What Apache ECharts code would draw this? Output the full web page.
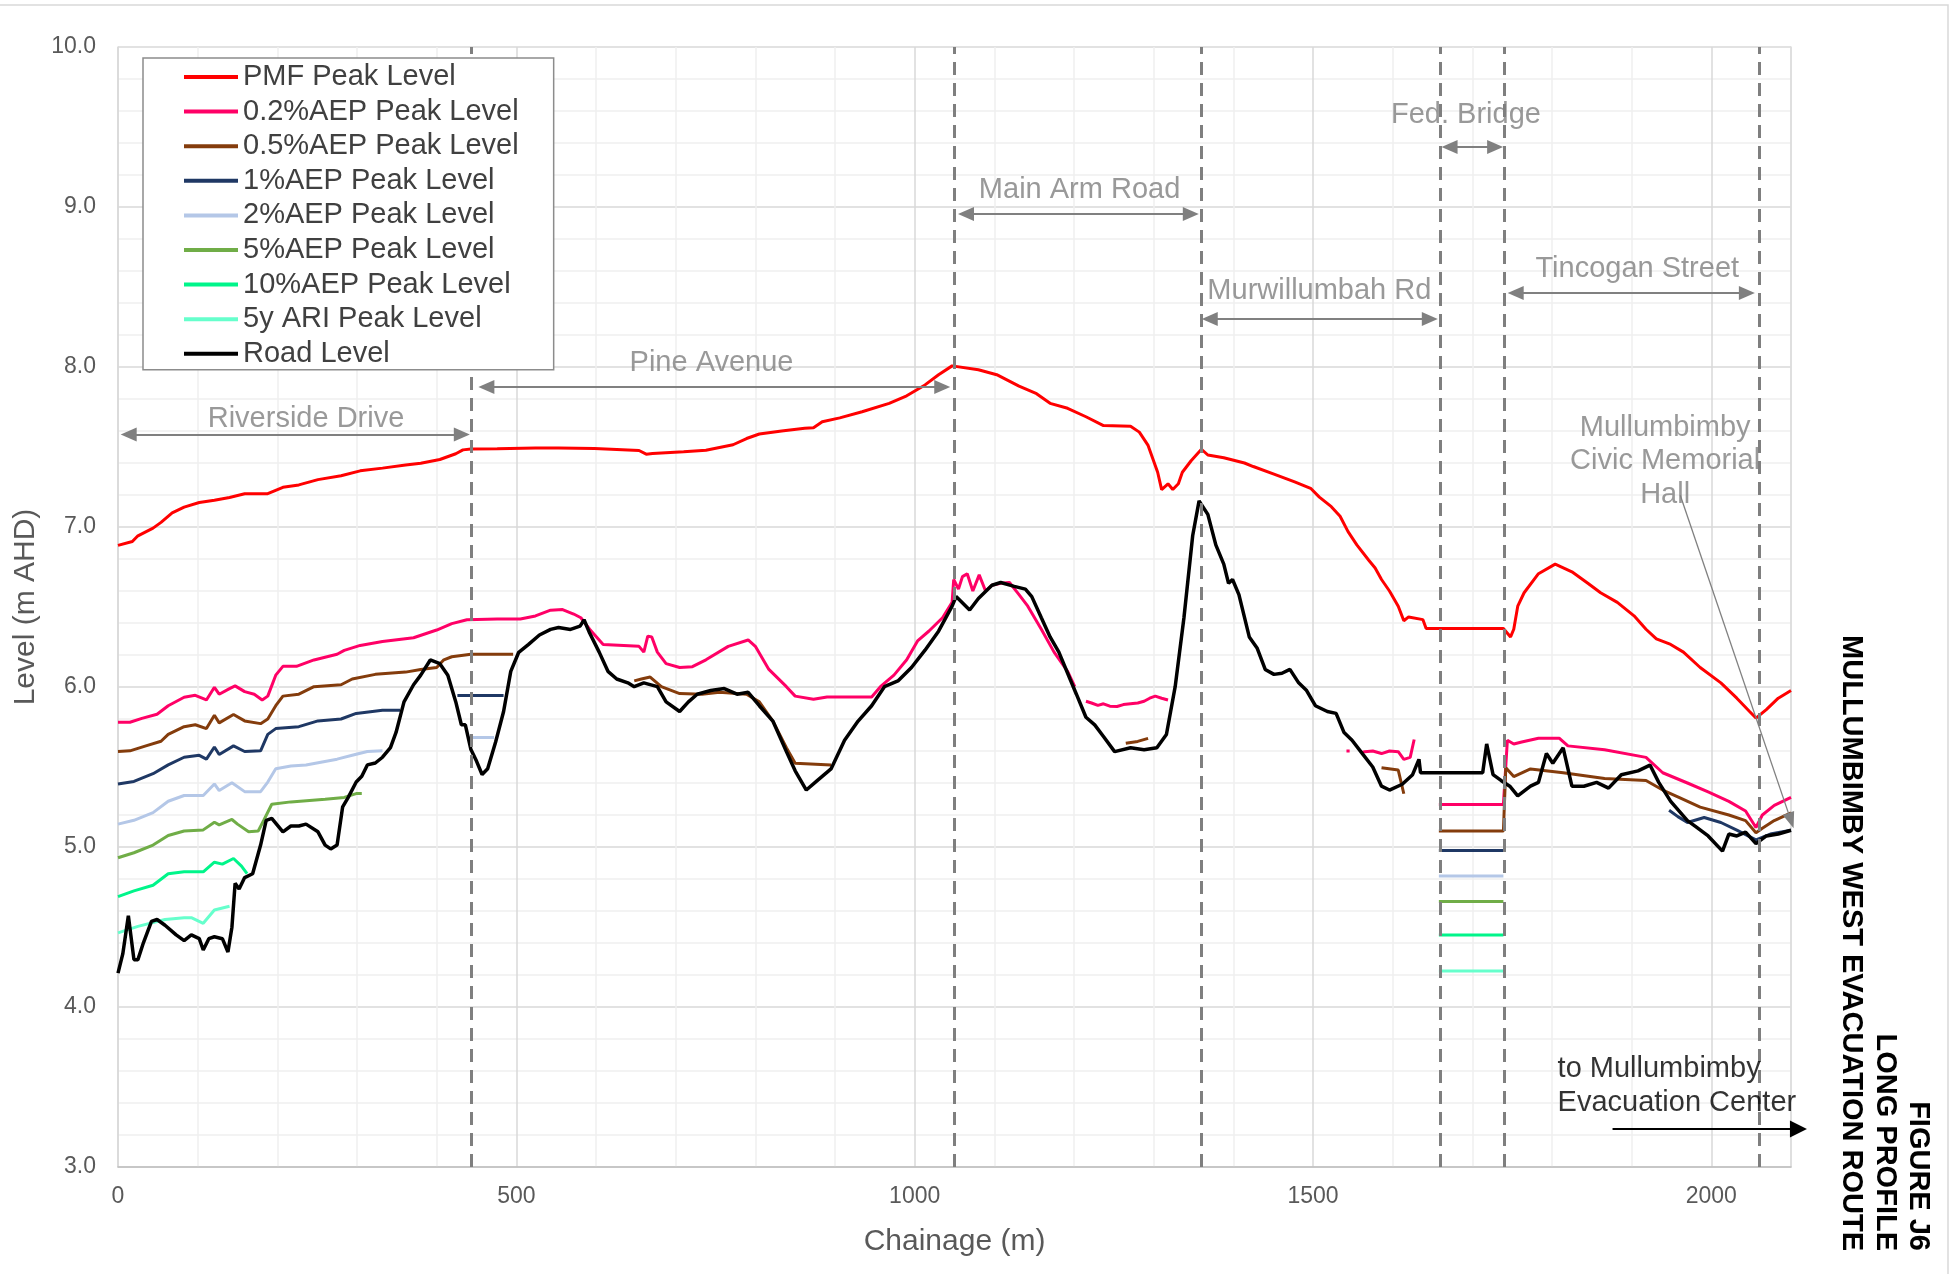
<!DOCTYPE html>
<html>
<head>
<meta charset="utf-8">
<script src="https://cdn.jsdelivr.net/npm/echarts@6/dist/echarts.min.js"></script>
<style>
html,body{margin:0;padding:0;background:#fff;}
#chart{width:1952px;height:1274px;}
</style>
</head>
<body>
<div id="chart"></div>
<script>
// ---------------- DATA (chainage m, level m AHD) ----------------
const seriesNames = ['PMF Peak Level','0.2%AEP Peak Level','0.5%AEP Peak Level','1%AEP Peak Level','2%AEP Peak Level','5%AEP Peak Level','10%AEP Peak Level','5y ARI Peak Level','Road Level'];

const pmf = [[0,6.885],[18,6.909],[25,6.945],[44,6.993],[54,7.029],[68,7.088],[83,7.124],[102,7.153],[121,7.167],[140,7.184],[159,7.208],[188,7.208],[207,7.248],[227,7.263],[251,7.296],[280,7.320],[304,7.351],[332,7.368],[361,7.387],[380,7.399],[404,7.422],[424,7.458],[433,7.482],[443,7.487],[476,7.489],[524,7.494],[553,7.494],[598,7.49],[654,7.478],[663,7.455],[671,7.46],[710,7.47],[738,7.48],[772,7.514],[789,7.553],[805,7.581],[833,7.60],[862,7.617],[873,7.62],[884,7.658],[906,7.682],[934,7.72],[968,7.773],[990,7.82],[1013,7.888],[1030,7.952],[1047,8.007],[1080,7.983],[1103,7.952],[1131,7.88],[1153,7.833],[1170,7.773],[1192,7.742],[1215,7.689],[1237,7.634],[1271,7.63],[1282,7.593],[1293,7.51],[1305,7.342],[1310,7.234],[1318,7.27],[1324,7.234],[1331,7.27],[1336,7.342],[1347,7.414],[1360,7.486],[1368,7.45],[1388,7.433],[1414,7.40],[1425,7.378],[1451,7.33],[1477,7.282],[1497,7.242],[1508,7.187],[1523,7.127],[1534,7.067],[1544,6.971],[1555,6.888],[1570,6.792],[1578,6.744],[1586,6.672],[1596,6.60],[1607,6.505],[1614,6.414],[1620,6.438],[1638,6.421],[1642,6.366],[1658,6.366],[1739,6.366],[1748,6.313],[1752,6.361],[1757,6.505],[1765,6.589],[1783,6.708],[1804,6.768],[1825,6.72],[1845,6.648],[1861,6.589],[1882,6.529],[1903,6.445],[1918,6.361],[1931,6.301],[1949,6.266],[1965,6.218],[1986,6.122],[2012,6.026],[2032,5.93],[2048,5.847],[2056,5.806],[2069,5.859],[2084,5.93],[2100,5.978]];

const aep02 = [[0,5.78],[15,5.78],[30,5.804],[49,5.83],[63,5.883],[83,5.936],[97,5.948],[111,5.919],[121,5.998],[127,5.955],[140,5.99],[147,6.007],[159,5.971],[171,5.955],[181,5.919],[188,5.943],[198,6.074],[207,6.129],[224,6.129],[246,6.169],[275,6.205],[284,6.229],[304,6.26],[332,6.284],[371,6.308],[400,6.356],[419,6.396],[438,6.42],[476,6.425],[505,6.425],[524,6.444],[543,6.48],[558,6.484],[572,6.456],[581,6.433],[592,6.361],[609,6.266],[654,6.254],[660,6.218],[665,6.318],[670,6.313],[677,6.218],[688,6.146],[705,6.122],[721,6.127],[738,6.17],[766,6.254],[791,6.294],[800,6.254],[817,6.11],[839,6.002],[850,5.943],[873,5.923],[890,5.938],[946,5.938],[957,6.002],[974,6.074],[990,6.17],[1004,6.29],[1018,6.35],[1035,6.433],[1047,6.529],[1049,6.672],[1055,6.612],[1060,6.69],[1066,6.708],[1073,6.6],[1081,6.701],[1089,6.6],[1097,6.636],[1108,6.648],[1119,6.653],[1131,6.577],[1142,6.505],[1159,6.361],[1175,6.218],[1192,6.098],[1201,6.002],[1208,null],[1215,5.911],[1222,5.90],[1230,5.885],[1237,5.895],[1245,5.88],[1254,5.878],[1262,5.89],[1271,5.895],[1280,5.90],[1288,5.911],[1295,5.93],[1302,5.943],[1310,5.93],[1318,5.919],[1330,null],[1542,5.6],[1546,5.6],[1552,null],[1560,5.59],[1565,5.596],[1575,5.60],[1586,5.584],[1596,5.60],[1607,5.596],[1614,5.548],[1622,5.56],[1627,5.672],[1640,null],[1658,5.266],[1739,5.266],[1744,5.667],[1752,5.644],[1762,5.656],[1783,5.68],[1809,5.68],[1820,5.632],[1866,5.608],[1918,5.56],[1939,5.464],[1970,5.40],[1996,5.344],[2022,5.285],[2043,5.225],[2056,5.122],[2064,5.20],[2079,5.26],[2100,5.31]];

const aep05 = [[0,5.597],[15,5.601],[35,5.632],[54,5.661],[63,5.704],[83,5.752],[97,5.764],[111,5.74],[121,5.823],[127,5.776],[145,5.828],[159,5.788],[179,5.771],[188,5.80],[198,5.883],[207,5.943],[227,5.955],[246,6.002],[280,6.014],[294,6.05],[323,6.079],[361,6.093],[380,6.11],[400,6.122],[409,6.17],[419,6.189],[443,6.205],[496,6.205],[500,null],[648,6.038],[657,6.05],[668,6.062],[682,6.002],[705,5.959],[733,5.955],[755,5.967],[789,5.955],[805,5.907],[822,5.787],[839,5.62],[850,5.524],[895,5.512],[900,null],[1265,5.648],[1280,5.66],[1293,5.679],[1300,null],[1586,5.495],[1607,5.481],[1614,5.333],[1620,null],[1658,5.10],[1739,5.10],[1742,5.495],[1752,5.44],[1773,5.488],[1814,5.464],[1866,5.428],[1918,5.416],[1939,5.356],[1960,5.309],[1986,5.249],[2022,5.20],[2043,5.165],[2056,5.089],[2064,5.117],[2079,5.165],[2100,5.213]];

const aep1 = [[0,5.394],[20,5.41],[44,5.458],[63,5.513],[83,5.561],[102,5.573],[111,5.549],[121,5.625],[127,5.578],[145,5.632],[159,5.597],[179,5.601],[188,5.704],[198,5.74],[227,5.752],[251,5.788],[280,5.80],[299,5.835],[332,5.854],[354,5.854],[358,null],[426,5.947],[484,5.947],[490,null],[1658,4.978],[1739,4.978],[1745,null],[1947,5.23],[1958,5.19],[1970,5.153],[1991,5.184],[2012,5.153],[2032,5.105],[2056,5.045],[2074,5.081],[2100,5.105]];

const aep2 = [[0,5.143],[20,5.167],[44,5.215],[63,5.286],[83,5.322],[107,5.322],[121,5.394],[127,5.353],[143,5.401],[159,5.346],[179,5.346],[188,5.406],[198,5.489],[217,5.506],[236,5.513],[275,5.549],[294,5.573],[313,5.597],[332,5.601],[336,null],[438,5.685],[472,5.685],[476,null],[1658,4.818],[1739,4.818]];

const aep5 = [[0,4.933],[20,4.964],[44,5.012],[63,5.072],[83,5.10],[107,5.107],[121,5.155],[127,5.138],[143,5.172],[150,5.143],[164,5.095],[176,5.10],[183,5.167],[193,5.267],[217,5.282],[260,5.298],[284,5.31],[299,5.334],[306,5.334],[310,null],[1658,4.66],[1739,4.66]];

const aep10 = [[0,4.69],[20,4.726],[44,4.761],[63,4.833],[83,4.845],[107,4.845],[121,4.905],[131,4.893],[145,4.928],[155,4.881],[162,4.833],[166,null],[1658,4.45],[1739,4.45]];

const ari5 = [[0,4.463],[25,4.504],[59,4.547],[83,4.558],[92,4.558],[107,4.523],[121,4.606],[140,4.63],[144,null],[1658,4.225],[1739,4.225]];

const road = [[0,4.212],[6,4.332],[13,4.57],[20,4.296],[25,4.296],[32,4.403],[42,4.535],[49,4.547],[59,4.511],[73,4.451],[83,4.415],[92,4.451],[102,4.427],[107,4.356],[114,4.427],[121,4.439],[131,4.427],[138,4.344],[143,4.499],[147,4.773],[152,4.737],[159,4.809],[169,4.833],[179,5.012],[186,5.167],[193,5.179],[207,5.095],[217,5.131],[227,5.131],[236,5.143],[251,5.095],[260,5.012],[267,4.988],[275,5.012],[282,5.251],[289,5.31],[299,5.406],[306,5.442],[313,5.513],[323,5.525],[332,5.561],[342,5.621],[349,5.716],[359,5.907],[371,6.014],[380,6.074],[392,6.169],[404,6.146],[414,6.074],[424,5.907],[431,5.764],[436,5.764],[443,5.609],[450,5.537],[457,5.453],[464,5.489],[474,5.656],[484,5.847],[493,6.098],[503,6.217],[515,6.265],[529,6.325],[543,6.36],[553,6.372],[568,6.36],[580,6.38],[585,6.42],[592,6.337],[604,6.218],[615,6.098],[626,6.05],[640,6.026],[648,6.002],[660,6.026],[677,6.002],[688,5.907],[705,5.847],[716,5.907],[727,5.955],[744,5.978],[761,5.99],[777,5.955],[791,5.967],[805,5.883],[822,5.787],[839,5.596],[850,5.476],[864,5.356],[878,5.416],[895,5.488],[912,5.667],[929,5.787],[946,5.883],[962,6.002],[979,6.038],[996,6.122],[1013,6.23],[1030,6.349],[1047,6.505],[1052,6.565],[1069,6.481],[1080,6.553],[1097,6.636],[1108,6.653],[1125,6.629],[1139,6.612],[1147,6.565],[1159,6.433],[1170,6.313],[1181,6.218],[1195,6.05],[1203,5.955],[1215,5.811],[1226,5.763],[1237,5.691],[1251,5.596],[1271,5.62],[1288,5.608],[1304,5.62],[1316,5.703],[1327,6.002],[1338,6.433],[1349,6.947],[1357,7.163],[1368,7.079],[1378,6.888],[1388,6.768],[1394,6.648],[1399,6.672],[1407,6.577],[1420,6.313],[1430,6.242],[1440,6.11],[1451,6.079],[1461,6.086],[1471,6.11],[1482,6.026],[1492,5.978],[1503,5.883],[1518,5.847],[1529,5.835],[1539,5.715],[1549,5.667],[1560,5.596],[1575,5.50],[1586,5.38],[1596,5.356],[1612,5.392],[1625,5.452],[1633,5.548],[1635,5.464],[1658,5.464],[1713,5.464],[1718,5.644],[1726,5.452],[1736,5.416],[1747,5.38],[1757,5.32],[1773,5.38],[1783,5.404],[1793,5.584],[1801,5.524],[1814,5.62],[1825,5.38],[1840,5.38],[1856,5.404],[1871,5.368],[1887,5.452],[1908,5.476],[1923,5.512],[1934,5.404],[1949,5.285],[1970,5.165],[1980,5.129],[1996,5.069],[2014,4.974],[2022,5.081],[2032,5.069],[2043,5.093],[2056,5.021],[2069,5.069],[2084,5.081],[2100,5.105]];

// section boundaries (chainage)
const sectionBounds = [443, 1050, 1360, 1660, 1740, 2060];

// road section labels: [text, x, y] and their extent arrows [x1, x2, y]
const roadLabels = [['Riverside Drive',236,7.674],['Pine Avenue',745,8.024],['Main Arm Road',1207,9.104],['Fed. Bridge',1692,9.574],['Murwillumbah Rd',1508,8.474],['Tincogan Street',1907,8.614],['Mullumbimby\nCivic Memorial\nHall',1942,7.41]];
const roadArrows = [[4,441,7.578],[453,1044,7.875],[1055,1356,8.956],[1662,1738,9.375],[1361,1656,8.30],[1745,2054,8.4625]];
const hallPointer = [[1961,7.198],[2100,5.165]];
const evacLabel = ['to Mullumbimby\nEvacuation Center',1807,3.505];
const evacArrow = [[1876,3.2375],[2120,3.2375]];

const xTicks = [0,500,1000,1500,2000];
const yTicks = [3,4,5,6,7,8,9,10];

// ---------------- CHART ----------------
const FONT = '"Liberation Sans", Arial, Helvetica, sans-serif';
const colors = ['#FF0000','#FF0066','#843C0C','#1F3864','#B4C7E7','#70AD47','#00F58A','#66FFCC','#000000'];
const dataSets = [pmf,aep02,aep05,aep1,aep2,aep5,aep10,ari5,road];

const chart = echarts.init(document.getElementById('chart'), null, {renderer:'canvas'});

const HALF = 9.4; // half arrow-head length in chainage units
const arrowLines = roadArrows.map(a => [
  {coord:[a[0]+HALF, a[2]]},
  {coord:[a[1]-HALF, a[2]]}
]);

const lineSeries = dataSets.map((d,i) => ({
  name: seriesNames[i],
  type: 'line',
  data: d,
  showSymbol: false,
  symbol: 'none',
  connectNulls: false,
  color: colors[i],
  lineStyle: {width: i === 8 ? 3.5 : 3, color: colors[i]},
  z: 3 + i*0.01,
  silent: true
}));

const baseGraphic = [
  {id:'frame', type:'rect', silent:true, z:-10, shape:{x:-2, y:5, width:1950, height:1300}, style:{fill:null, stroke:'#d9d9d9', lineWidth:1.5}},
  {id:'title', type:'text', silent:true, x:1935, y:1251, rotation:-Math.PI/2,
    style:{text:'FIGURE J6\nLONG PROFILE\nMULLUMBIMBY WEST EVACUATION ROUTE', font:'bold 29px ' + FONT, fill:'#000000', align:'right', verticalAlign:'top', lineHeight:33.5}}
];

const option = {
  animation: false,
  backgroundColor: '#ffffff',
  textStyle: {fontFamily: FONT},
  grid: {left:118, top:47, right:161, bottom:107, containLabel:false},
  legend: {
    orient:'vertical', left:143, top:58,
    padding:[4,35,1,41], itemGap:4.6, itemWidth:54, itemHeight:4,
    icon:'rect', backgroundColor:'#ffffff', borderColor:'#8c8c8c', borderWidth:1.5,
    textStyle:{fontSize:29, color:'#404040', fontFamily:FONT, lineHeight:30},
    data: seriesNames, z: 20, selectedMode:false
  },
  xAxis: {
    type:'value', min:0, max:2100, interval:100,
    name:'Chainage (m)', nameLocation:'middle', nameGap:60,
    nameTextStyle:{fontSize:30, color:'#595959', fontFamily:FONT},
    axisLine:{show:true, lineStyle:{color:'#bfbfbf', width:1.5}},
    axisTick:{show:false},
    axisLabel:{fontSize:23, color:'#595959', fontFamily:FONT, margin:18,
      formatter: v => xTicks.indexOf(Math.round(v)) >= 0 && Math.abs(v-Math.round(v))<1e-6 ? String(Math.round(v)) : ''},
    splitLine:{show:true, lineStyle:{color:['#d9d9d9','#efefef','#efefef','#efefef','#efefef'], width:1.5}}
  },
  yAxis: [{
    type:'value', min:3, max:10, interval:0.2,
    name:'Level (m AHD)', nameLocation:'middle', nameGap:75,
    nameTextStyle:{fontSize:30, color:'#595959', fontFamily:FONT},
    axisLine:{show:true, lineStyle:{color:'#d9d9d9', width:1.5}},
    axisTick:{show:false},
    axisLabel:{fontSize:23, color:'#595959', fontFamily:FONT, margin:22,
      formatter: v => { const r = Math.round(v); return (Math.abs(v-r)<1e-6 && yTicks.indexOf(r)>=0) ? r.toFixed(1) : ''; }},
    splitLine:{show:true, lineStyle:{color:['#d9d9d9','#efefef','#efefef','#efefef','#efefef'], width:1.5}}
  },{
    type:'value', min:3, max:10, position:'right',
    axisLine:{show:true, onZero:false, lineStyle:{color:'#d9d9d9', width:1.5}},
    axisTick:{show:false}, axisLabel:{show:false}, splitLine:{show:false}
  }],
  series: lineSeries.concat([
    {
      name:'annotations', type:'line', data:[], silent:true, z:10, clip:false,
      markLine:{
        silent:true, animation:false, symbol:['none','none'],
        label:{show:false},
        data: sectionBounds.map(x => ({xAxis:x, lineStyle:{color:'#7f7f7f', width:3, type:[13,8]}}))
      }
    },
    {
      name:'arrows', type:'line', data:[], silent:true, z:11, clip:false,
      markLine:{
        silent:true, animation:false,
        symbol:['triangle','triangle'], symbolSize:[14,16],
        label:{show:false},
        lineStyle:{color:'#808080', width:2, type:'solid'},
        data: arrowLines.concat([
          [{coord:hallPointer[0], symbol:'none'}, {coord:hallPointer[1], symbol:'triangle', symbolSize:[12,16], lineStyle:{width:1.3, color:'#808080'}}]
        ])
      },
      itemStyle:{color:'#808080'}
    },
    {
      name:'labels', type:'scatter', symbolSize:1, silent:true, z:12, clip:false,
      itemStyle:{color:'rgba(0,0,0,0)'},
      label:{show:true, position:'inside', formatter:'{b}', fontSize:29, color:'#808080', fontFamily:FONT, lineHeight:33.5, align:'center'},
      data: roadLabels.map(l => ({name:l[0], value:[l[1], l[2]]})).concat([
        {name:evacLabel[0], value:[evacLabel[1], evacLabel[2]], label:{color:'#000000', align:'left'}}
      ])
    }
  ]),
  graphic: baseGraphic
};

chart.setOption(option);

// evacuation-centre arrow runs past the axis end, so place it through the axis scale as a graphic
const p1 = chart.convertToPixel({gridIndex:0}, evacArrow[0]);
const p2 = chart.convertToPixel({gridIndex:0}, evacArrow[1]);
const headLen = 17, headHalf = 8.5;
chart.setOption({
  graphic: baseGraphic.concat([
    {id:'evacLine', type:'line', silent:true, z:50, shape:{x1:p1[0], y1:p1[1], x2:p2[0]-headLen+1, y2:p2[1]}, style:{stroke:'#000000', lineWidth:2}},
    {id:'evacHead', type:'polygon', silent:true, z:50, shape:{points:[[p2[0],p2[1]],[p2[0]-headLen,p2[1]-headHalf],[p2[0]-headLen,p2[1]+headHalf]]}, style:{fill:'#000000'}}
  ])
});
</script>
</body>
</html>
